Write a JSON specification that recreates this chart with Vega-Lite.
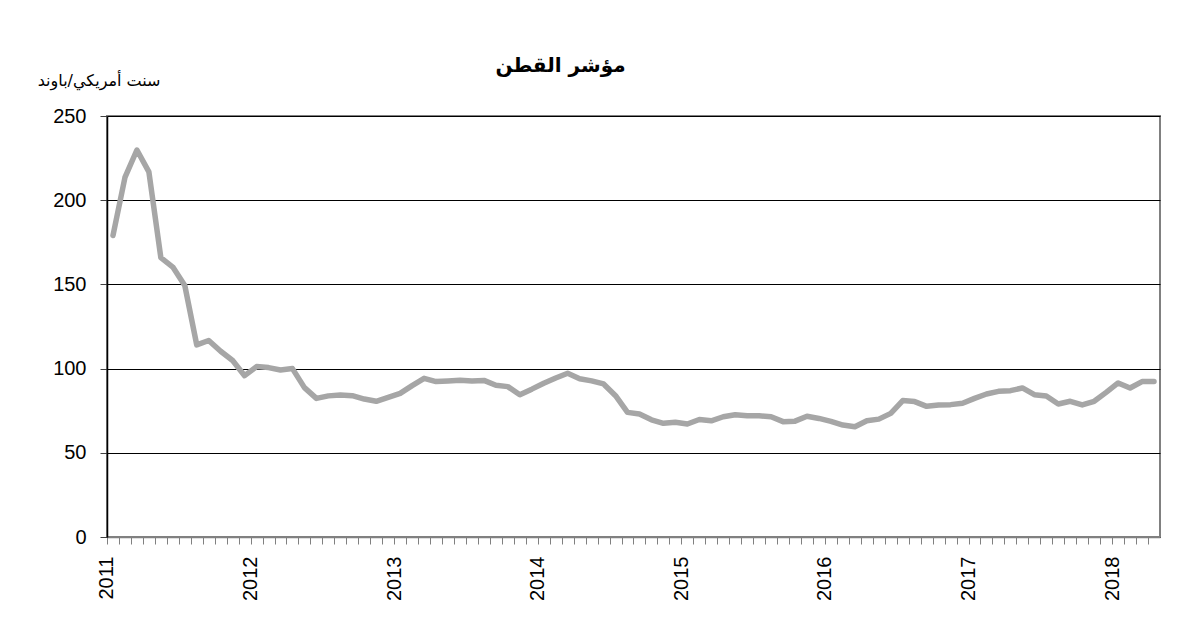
{
  "$schema": "https://vega.github.io/schema/vega-lite/v6.json",
  "width": 1053,
  "height": 421,
  "autosize": {"type": "none"},
  "padding": {"left": 107, "top": 116, "right": 43, "bottom": 80},
  "background": "white",
  "title": {
    "text": "مؤشر القطن",
    "font": "DejaVu Sans",
    "fontSize": 20,
    "fontWeight": "bold",
    "color": "black",
    "anchor": "middle",
    "frame": "group",
    "dx": -73,
    "dy": 14,
    "offset": 10
  },
  "data": {
    "values": [
      {"month": "2011-01", "value": 179},
      {"month": "2011-02", "value": 213.5},
      {"month": "2011-03", "value": 229.8},
      {"month": "2011-04", "value": 216.8},
      {"month": "2011-05", "value": 165.9},
      {"month": "2011-06", "value": 160.3},
      {"month": "2011-07", "value": 149.4},
      {"month": "2011-08", "value": 114.1},
      {"month": "2011-09", "value": 116.7},
      {"month": "2011-10", "value": 110.3},
      {"month": "2011-11", "value": 104.8},
      {"month": "2011-12", "value": 95.8},
      {"month": "2012-01", "value": 101.2},
      {"month": "2012-02", "value": 100.6},
      {"month": "2012-03", "value": 99.2},
      {"month": "2012-04", "value": 100},
      {"month": "2012-05", "value": 88.7},
      {"month": "2012-06", "value": 82.3},
      {"month": "2012-07", "value": 83.8},
      {"month": "2012-08", "value": 84.3},
      {"month": "2012-09", "value": 83.9},
      {"month": "2012-10", "value": 81.9},
      {"month": "2012-11", "value": 80.6},
      {"month": "2012-12", "value": 82.9},
      {"month": "2013-01", "value": 85.3},
      {"month": "2013-02", "value": 89.9},
      {"month": "2013-03", "value": 94.2},
      {"month": "2013-04", "value": 92.3},
      {"month": "2013-05", "value": 92.7},
      {"month": "2013-06", "value": 93.1},
      {"month": "2013-07", "value": 92.7},
      {"month": "2013-08", "value": 93},
      {"month": "2013-09", "value": 90.1},
      {"month": "2013-10", "value": 89.3},
      {"month": "2013-11", "value": 84.5},
      {"month": "2013-12", "value": 87.8},
      {"month": "2014-01", "value": 91.3},
      {"month": "2014-02", "value": 94.4},
      {"month": "2014-03", "value": 97.2},
      {"month": "2014-04", "value": 94},
      {"month": "2014-05", "value": 92.7},
      {"month": "2014-06", "value": 90.9},
      {"month": "2014-07", "value": 83.9},
      {"month": "2014-08", "value": 74},
      {"month": "2014-09", "value": 73},
      {"month": "2014-10", "value": 69.6},
      {"month": "2014-11", "value": 67.5},
      {"month": "2014-12", "value": 68.1},
      {"month": "2015-01", "value": 67.1},
      {"month": "2015-02", "value": 69.8},
      {"month": "2015-03", "value": 69},
      {"month": "2015-04", "value": 71.4},
      {"month": "2015-05", "value": 72.6},
      {"month": "2015-06", "value": 72},
      {"month": "2015-07", "value": 72},
      {"month": "2015-08", "value": 71.4},
      {"month": "2015-09", "value": 68.5},
      {"month": "2015-10", "value": 68.8},
      {"month": "2015-11", "value": 71.7},
      {"month": "2015-12", "value": 70.4},
      {"month": "2016-01", "value": 68.7},
      {"month": "2016-02", "value": 66.5},
      {"month": "2016-03", "value": 65.5},
      {"month": "2016-04", "value": 69},
      {"month": "2016-05", "value": 70},
      {"month": "2016-06", "value": 73.4},
      {"month": "2016-07", "value": 81},
      {"month": "2016-08", "value": 80.4},
      {"month": "2016-09", "value": 77.6},
      {"month": "2016-10", "value": 78.4},
      {"month": "2016-11", "value": 78.6},
      {"month": "2016-12", "value": 79.4},
      {"month": "2017-01", "value": 82.3},
      {"month": "2017-02", "value": 84.9},
      {"month": "2017-03", "value": 86.5},
      {"month": "2017-04", "value": 86.9},
      {"month": "2017-05", "value": 88.5},
      {"month": "2017-06", "value": 84.5},
      {"month": "2017-07", "value": 83.7},
      {"month": "2017-08", "value": 79},
      {"month": "2017-09", "value": 80.6},
      {"month": "2017-10", "value": 78.4},
      {"month": "2017-11", "value": 80.6},
      {"month": "2017-12", "value": 85.9},
      {"month": "2018-01", "value": 91.5},
      {"month": "2018-02", "value": 88.5},
      {"month": "2018-03", "value": 92.3},
      {"month": "2018-04", "value": 92.3}
    ]
  },
  "mark": {"type": "line", "color": "#A6A6A6", "strokeWidth": 5.5, "strokeJoin": "round", "strokeCap": "round"},
  "encoding": {
    "x": {
      "field": "month",
      "type": "ordinal",
      "scale": {"type": "point", "padding": 0.5},
      "axis": {
        "title": null,
        "labelExpr": "substring(datum.label, 5, 7) == '01' ? substring(datum.label, 0, 4) : ''",
        "labelAngle": -90,
        "labelOverlap": false,
        "labelBound": false,
        "labelFont": "Liberation Sans",
        "labelFontSize": 20,
        "labelColor": "black",
        "labelPadding": 12,
        "tickSize": 7,
        "tickOffset": -6,
        "tickColor": "#808080",
        "domainColor": "#808080",
        "domainWidth": 1.5,
        "grid": false
      }
    },
    "y": {
      "field": "value",
      "type": "quantitative",
      "scale": {"domain": [0, 250], "nice": false},
      "axis": {
        "values": [0, 50, 100, 150, 200, 250],
        "title": "سنت أمريكي/باوند",
        "titleFont": "DejaVu Sans",
        "titleFontSize": 16,
        "titleFontWeight": "normal",
        "titleColor": "black",
        "titleAngle": 0,
        "titleAlign": "right",
        "titleBaseline": "middle",
        "titleX": 53,
        "titleY": -36,
        "labelFont": "Liberation Sans",
        "labelFontSize": 20,
        "labelColor": "black",
        "labelPadding": 14,
        "tickSize": 7,
        "tickColor": "#404040",
        "domainColor": "black",
        "domainWidth": 1.5,
        "grid": true,
        "gridColor": "black",
        "gridWidth": 1,
        "gridOpacity": 1
      }
    }
  },
  "config": {
    "view": {"stroke": "#808080", "strokeWidth": 2}
  }
}
